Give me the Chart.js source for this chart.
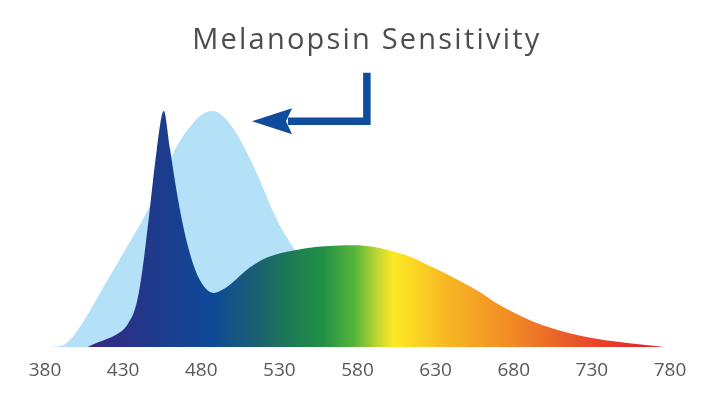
<!DOCTYPE html>
<html>
<head>
<meta charset="utf-8">
<script src="https://cdn.jsdelivr.net/npm/chart.js@4.4.1/dist/chart.umd.min.js"></script>
<style>
	html, body { margin: 0; padding: 0; background: #ffffff; }
	#wrap { width: 709px; height: 394px; }
</style>
</head>
<body>
<div id="wrap"><canvas id="ID_Melanopsin"></canvas></div>
<script>
// melanopsin sensitivity curve (light blue), relative 0-100
const melanopsinNm = [383, 388, 393, 399, 406, 417, 432, 445, 454, 462, 468, 475, 480, 487, 493, 500, 506, 511, 517, 522, 527, 532, 540, 550, 560, 569, 577, 585, 592];
const melanopsinLevel = [0, 0.4, 1.4, 5.5, 12.5, 25, 42, 57, 70, 82, 89, 95, 98.3, 100, 98.3, 93, 86.5, 80, 71.5, 63.5, 56, 49.5, 41, 31, 20, 11, 5, 1.5, 0];

// light source spectrum (rainbow area), relative 0-100
const spectrumNm = [407, 411, 418, 426, 431, 434, 437, 440, 443, 447, 451.5, 456, 460, 463, 467, 471, 476, 482, 488, 494, 500, 511, 522, 539, 553, 565, 578, 590, 603, 615, 626, 637, 647, 658, 668, 679, 690, 700, 711, 722, 733, 744, 754, 766, 778];
const spectrumLevel = [0, 1.3, 3, 5.5, 8, 11, 15, 23, 36, 58, 83.4, 100, 84, 71, 56, 44, 33, 25.5, 23, 24.5, 27.4, 33.7, 38, 41, 42.4, 43, 43.2, 42.5, 40.5, 38, 34.5, 31, 27.5, 23.5, 19, 15, 11.5, 9, 6.8, 5, 3.6, 2.5, 1.7, 0.8, 0];

const xTicks = [380, 430, 480, 530, 580, 630, 680, 730, 780];
const titleText = 'Melanopsin Sensitivity';

// colour stops of the rainbow, by wavelength
const rainbowStops = [
	[409, '#3a2a80'], [425, '#2d2f88'], [450, '#1f3a8c'], [487, '#0e4a98'],
	[516, '#1a6070'], [537, '#1d7a55'], [558, '#229045'], [578, '#55b53a'],
	[594, '#c8d830'], [603, '#fde924'], [637, '#f7b823'], [679, '#f08a24'],
	[722, '#e8522a'], [765, '#e3242a']
];

function toPoints(xs, ys) {
	return xs.map(function (x, i) { return { x: x, y: ys[i] }; });
}

function rainbow(context) {
	const chart = context.chart;
	const area = chart.chartArea;
	if (!area) return '#1f3a8c';
	const xs = chart.scales.x;
	const x0 = xs.getPixelForValue(380), x1 = xs.getPixelForValue(780);
	const g = chart.ctx.createLinearGradient(x0, 0, x1, 0);
	rainbowStops.forEach(function (s) {
		g.addColorStop((s[0] - 380) / 400, s[1]);
	});
	return g;
}

// spectrum multiplies over the melanopsin curve
const multiplyPlugin = {
	id: 'multiply',
	beforeDatasetDraw: function (chart, args) {
		if (args.index === 0) {
			chart.ctx.save();
			chart.ctx.globalCompositeOperation = 'multiply';
		}
	},
	afterDatasetDraw: function (chart, args) {
		if (args.index === 0) chart.ctx.restore();
	}
};

// title + bent arrow pointing at the melanopsin peak
const calloutPlugin = {
	id: 'callout',
	afterDraw: function (chart) {
		const ctx = chart.ctx, xs = chart.scales.x, ys = chart.scales.y;
		const stemX = xs.getPixelForValue(586);
		const topY = ys.getPixelForValue(116.2);
		const tipX = xs.getPixelForValue(512.5);
		const tipY = ys.getPixelForValue(95.7);
		ctx.save();
		ctx.fillStyle = '#4d4d4f';
		ctx.font = '500 29px "Open Sans"';
		ctx.textAlign = 'center';
		ctx.textBaseline = 'alphabetic';
		ctx.letterSpacing = '2.2px';
		ctx.fillText(titleText, stemX, ys.getPixelForValue(126.4));
		ctx.letterSpacing = '0px';

		ctx.strokeStyle = '#0f4c9c';
		ctx.fillStyle = '#0f4c9c';
		ctx.lineWidth = 7.5;
		ctx.lineJoin = 'miter';
		ctx.beginPath();
		ctx.moveTo(stemX, topY);
		ctx.lineTo(stemX, tipY);
		ctx.lineTo(tipX + 36, tipY);
		ctx.stroke();

		ctx.beginPath();
		ctx.moveTo(tipX, tipY);
		ctx.lineTo(tipX + 40, tipY - 13);
		ctx.lineTo(tipX + 34, tipY);
		ctx.lineTo(tipX + 40, tipY + 13);
		ctx.closePath();
		ctx.fill();
		ctx.restore();
	}
};

new Chart(document.getElementById('ID_Melanopsin'), {
	type: 'line',
	plugins: [multiplyPlugin, calloutPlugin],
	data: {
		datasets: [{
			label: 'Spectrum',
			data: toPoints(spectrumNm, spectrumLevel),
			fill: 'origin',
			backgroundColor: rainbow,
			borderWidth: 0,
			pointRadius: 0,
			cubicInterpolationMode: 'monotone'
		}, {
			label: 'Melanopsin',
			data: toPoints(melanopsinNm, melanopsinLevel),
			fill: 'origin',
			backgroundColor: '#b4e1f7',
			borderWidth: 0,
			pointRadius: 0,
			tension: 0.4
		}]
	},
	options: {
		responsive: true,
		maintainAspectRatio: false,
		animation: false,
		events: [],
		elements: { line: { capBezierPoints: false } },
		layout: { padding: { left: 45, right: 39, top: 99.25, bottom: 0 } },
		plugins: {
			legend: { display: false },
			tooltip: { enabled: false },
			title: { display: false }
		},
		scales: {
			x: {
				type: 'linear',
				min: 380,
				max: 780,
				grid: { display: false, drawTicks: false },
				border: { display: false },
				afterBuildTicks: function (axis) {
					axis.ticks = xTicks.map(function (v) { return { value: v }; });
				},
				ticks: {
					padding: 12,
					color: '#58595b',
					font: { family: '"Open Sans"', size: 19 },
					maxRotation: 0,
					autoSkip: false
				}
			},
			y: {
				display: false,
				min: 0,
				max: 105
			}
		}
	}
});
</script>
</body>
</html>
